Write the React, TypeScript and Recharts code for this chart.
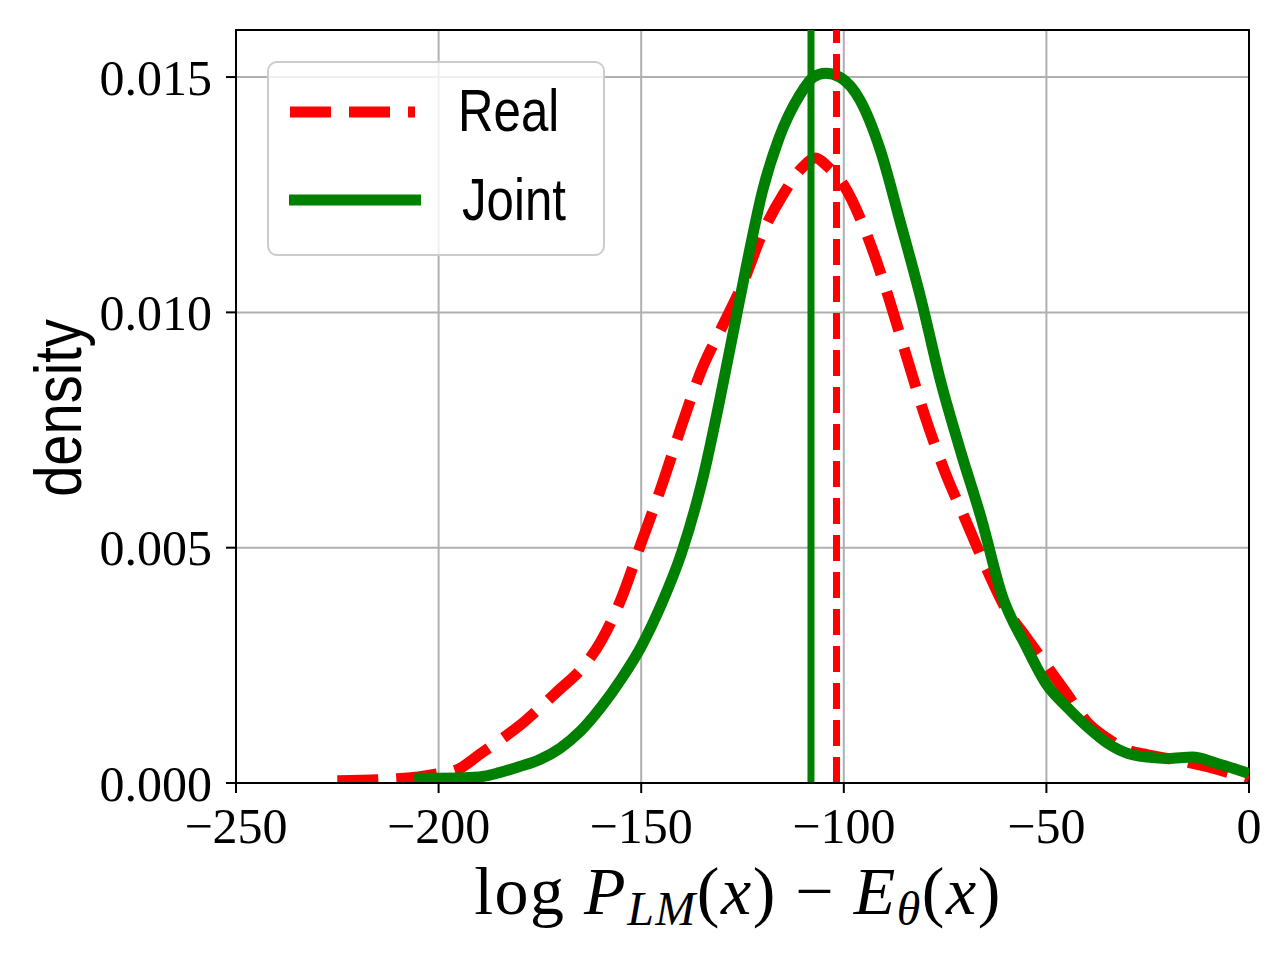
import { LineChart, Line, XAxis, YAxis, CartesianGrid, ReferenceLine, ReferenceArea } from 'recharts';

const xTicks = [-250, -200, -150, -100, -50, 0];
const yTicks = [0, 0.005, 0.01, 0.015];

// Real (dashed red) KDE curve
const realX = [-225, -215, -205, -200, -195, -190, -185, -180, -175, -170, -165, -160, -155, -150, -145, -140, -135, -130, -125, -120, -115, -110, -107, -104, -100, -95, -90, -85, -80, -75, -70, -65, -60, -55, -50, -45, -40, -35, -30, -25, -20, -15, -10, -5, 0];
const realY = [0.00005, 0.00007, 0.00013, 0.0002, 0.0003, 0.0006, 0.0009, 0.00122, 0.0016, 0.002, 0.0024, 0.003, 0.0039, 0.0051, 0.0063, 0.0076, 0.0088, 0.0097, 0.0106, 0.0117, 0.0125, 0.0131, 0.01328, 0.0131, 0.0127, 0.0118, 0.0106, 0.0092, 0.0078, 0.0066, 0.0056, 0.0046, 0.0037, 0.0031, 0.0025, 0.0019, 0.0013, 0.00095, 0.0007, 0.0006, 0.00052, 0.00044, 0.00034, 0.00022, 0.0001];

// Joint (solid green) KDE curve
const jointX = [-206, -200, -190, -185, -180, -175, -170, -165, -160, -155, -150, -145, -140, -135, -130, -127, -124, -120, -116, -111, -107.5, -104.5, -101, -96, -91, -86, -81, -76, -71, -66, -61, -55, -50, -45, -40, -35, -30, -25, -20, -14, -8, 0];
const jointY = [0.0001, 0.0001, 0.00013, 0.00022, 0.00035, 0.0005, 0.00074, 0.0011, 0.0016, 0.0022, 0.0029, 0.0038, 0.0049, 0.0064, 0.0084, 0.0097, 0.011, 0.0126, 0.0137, 0.0146, 0.015, 0.01508, 0.015, 0.01451, 0.01345, 0.0119, 0.0103, 0.0085, 0.007, 0.0056, 0.004, 0.0029, 0.0021, 0.00162, 0.0012, 0.00085, 0.00063, 0.00055, 0.00052, 0.00055, 0.00042, 0.0002];

// means (vertical markers)
const jointMean = -108.1;
const realMean = -101.8;

const realData = realX.map((x, i) => ({ x, y: realY[i] }));
const jointData = jointX.map((x, i) => ({ x, y: jointY[i] }));

const serif = '"Liberation Serif", "DejaVu Serif", serif';
const sans = '"Liberation Sans", "DejaVu Sans", sans-serif';

const fmtX = (v: number) => (v < 0 ? `\u2212${Math.abs(v)}` : `${v}`);
const fmtY = (v: number) => v.toFixed(3);

function XLabel() {
  return (
    <text x={738} y={914} textAnchor="middle" fontFamily={serif} fontSize={68} letterSpacing={1.5} fill="#000">
      <tspan>log </tspan>
      <tspan fontStyle="italic">P</tspan>
      <tspan fontStyle="italic" fontSize={48} dy={11}>LM</tspan>
      <tspan dy={-11}>(</tspan>
      <tspan fontStyle="italic">x</tspan>
      <tspan>) {'\u2212'} </tspan>
      <tspan fontStyle="italic">E</tspan>
      <tspan fontStyle="italic" fontSize={48} dy={11}>{'\u03b8'}</tspan>
      <tspan dy={-11}>(</tspan>
      <tspan fontStyle="italic">x</tspan>
      <tspan>)</tspan>
    </text>
  );
}

function YLabel() {
  // narrow sans look: squeeze along the text direction
  return (
    <g transform="translate(58 408) rotate(-90) scale(0.85 1)">
      <text x={0} y={0} textAnchor="middle" dominantBaseline="central" fontFamily={sans} fontSize={66} fill="#000">
        density
      </text>
    </g>
  );
}

function LegendBox() {
  return (
    <div style={{
      position: 'absolute', left: 267, top: 61, width: 334, height: 191,
      border: '2px solid #cccccc', borderRadius: 10, background: 'rgba(255,255,255,0.8)',
    }}>
      <svg width={334} height={191} style={{ position: 'absolute', left: 0, top: 0 }}>
        <line x1={21} x2={146} y1={49} y2={49} stroke="#ff0000" strokeWidth={11} strokeDasharray="41 18" />
        <line x1={20} x2={152} y1={137} y2={137} stroke="#008000" strokeWidth={11} />
        <g transform="translate(189 68) scale(0.82 1)">
          <text x={0} y={0} fontFamily={sans} fontSize={60} fill="#000">Real</text>
        </g>
        <g transform="translate(193 157) scale(0.82 1)">
          <text x={0} y={0} fontFamily={sans} fontSize={60} fill="#000">Joint</text>
        </g>
      </svg>
    </div>
  );
}

export default function App() {
  return (
    <div style={{ position: 'absolute', left: 0, top: 0, width: 1280, height: 960, background: '#fff' }}>
      <LineChart width={1280} height={960} margin={{ top: 30, right: 31, left: 0, bottom: 0 }}>
        <CartesianGrid stroke="#b0b0b0" strokeWidth={2} />
        <XAxis
          dataKey="x"
          type="number"
          domain={[-250, 0]}
          ticks={xTicks}
          allowDataOverflow
          height={177}
          tickFormatter={fmtX}
          tick={{ fontFamily: serif, fontSize: 50, fill: '#000' }}
          tickSize={10}
          tickMargin={14}
          tickLine={{ stroke: '#000', strokeWidth: 2 }}
          axisLine={{ stroke: '#000', strokeWidth: 2 }}
          label={<XLabel />}
        />
        <YAxis
          type="number"
          domain={[0, 0.016]}
          ticks={yTicks}
          allowDataOverflow
          width={236}
          tickFormatter={fmtY}
          tick={{ fontFamily: serif, fontSize: 50, fill: '#000' }}
          tickSize={10}
          tickMargin={14}
          tickLine={{ stroke: '#000', strokeWidth: 2 }}
          axisLine={{ stroke: '#000', strokeWidth: 2 }}
          label={<YLabel />}
        />
        <Line
          data={realData}
          dataKey="y"
          type="monotone"
          stroke="#ff0000"
          strokeWidth={11}
          strokeDasharray="41 18"
          dot={false}
          activeDot={false}
          isAnimationActive={false}
        />
        <Line
          data={jointData}
          dataKey="y"
          type="monotone"
          stroke="#008000"
          strokeWidth={11}
          dot={false}
          activeDot={false}
          isAnimationActive={false}
        />
        <ReferenceLine x={jointMean} stroke="#008000" strokeWidth={7} ifOverflow="visible" />
        <ReferenceLine x={realMean} stroke="#ff0000" strokeWidth={7} strokeDasharray="26 11" ifOverflow="visible" />
        <ReferenceArea x1={-250} x2={0} y1={0} y2={0.016} fill="none" stroke="#000" strokeWidth={2} ifOverflow="visible" />
      </LineChart>
      <LegendBox />
    </div>
  );
}
